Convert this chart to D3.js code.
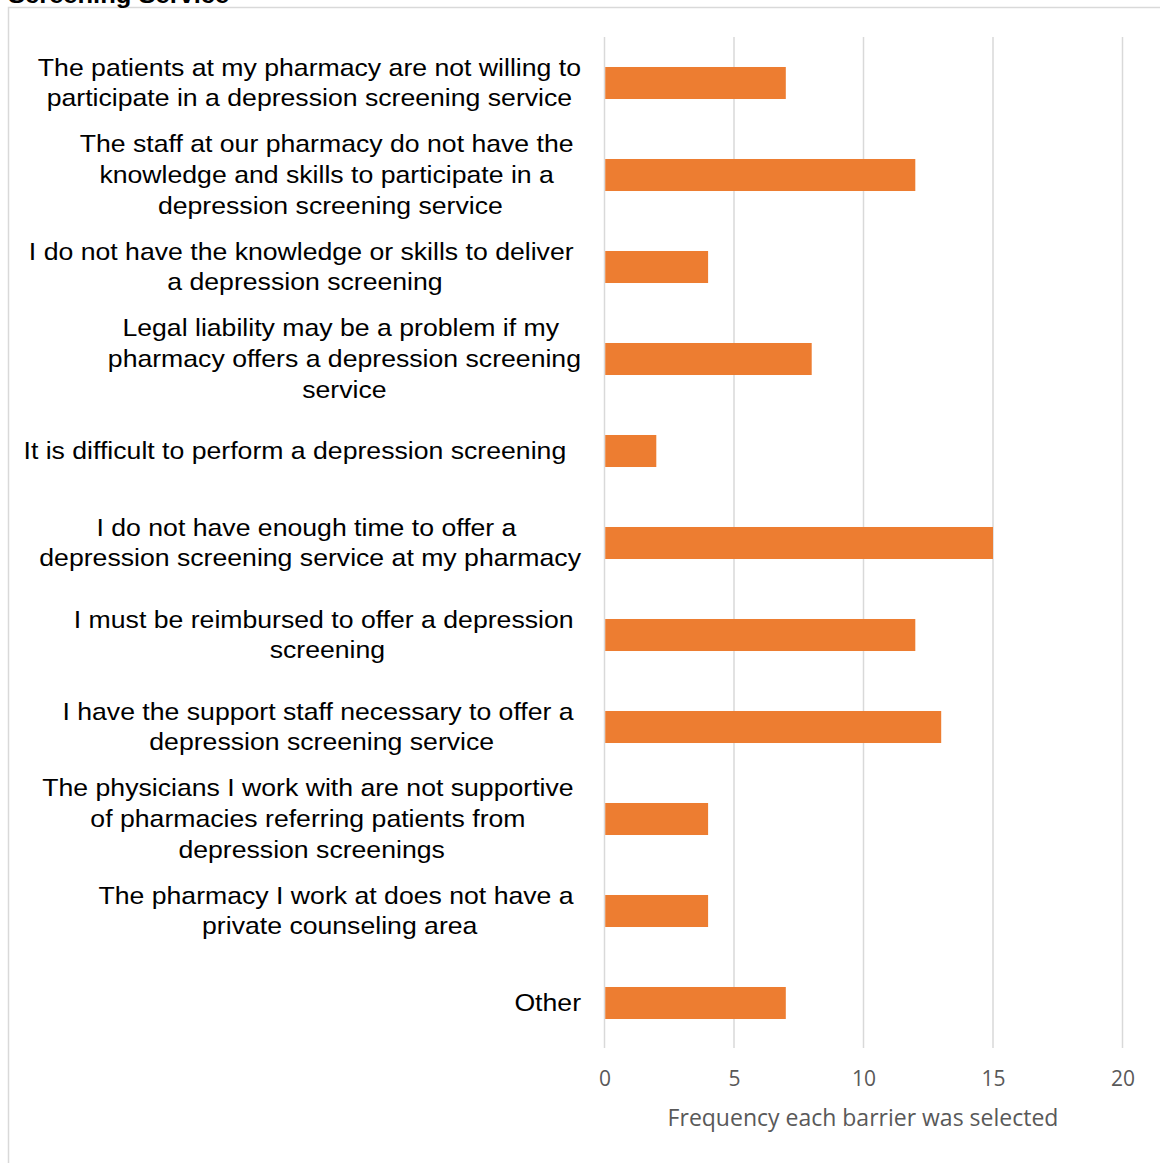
<!DOCTYPE html>
<html>
<head>
<meta charset="utf-8">
<script src="https://cdn.jsdelivr.net/npm/d3@7"></script>
<style>
  html, body { margin: 0; padding: 0; background: #fff; }
  svg { display: block; }
</style>
</head>
<body>
<svg id="chart" width="1160" height="1163"></svg>
<script>
// Barriers, each split into the lines it wraps onto (trailing spaces kept for centering)
const categories = [
  ["The patients at my pharmacy are not willing to", "participate in a depression screening service"],
  ["The staff at our pharmacy do not have the ", "knowledge and skills to participate in a ", "depression screening service"],
  ["I do not have the knowledge or skills to deliver ", "a depression screening"],
  ["Legal liability may be a problem if my ", "pharmacy offers a depression screening", "service"],
  ["It is difficult to perform a depression screening  "],
  ["I do not have enough time to offer a ", "depression screening service at my pharmacy"],
  ["I must be reimbursed to offer a depression ", "screening"],
  ["I have the support staff necessary to offer a ", "depression screening service"],
  ["The physicians I work with are not supportive ", "of pharmacies referring patients from ", "depression screenings"],
  ["The pharmacy I work at does not have a ", "private counseling area"],
  ["Other"]
];
const frequencies = [7, 12, 4, 8, 2, 15, 12, 13, 4, 4, 7];
const xTicks = [0, 5, 10, 15, 20];
const xTitle = "Frequency each barrier was selected";
const chartTitle = "Screening Service";

const svg = d3.select("#chart");
const plot = { left: 604.5, right: 1122.5, top: 37, bottom: 1049 };
const labelRight = 581;
const stretch = 1.11;   // labels are set slightly wide
const grid = "#d9d9d9";

// Outer chart frame (runs past the right and bottom edges)
svg.append("rect")
  .attr("x", 8.5).attr("y", 7.5)
  .attr("width", 1200).attr("height", 1200)
  .attr("fill", "none").attr("stroke", grid).attr("stroke-width", 1.5);

// Title, partly above the visible area
svg.append("text")
  .attr("transform", `translate(8,3) scale(${stretch},1)`)
  .attr("font-family", "Liberation Sans, Arial, sans-serif")
  .attr("font-weight", "bold").attr("font-size", 23)
  .attr("fill", "#000")
  .text(chartTitle);

const x = d3.scaleLinear().domain([0, 20]).range([plot.left, plot.right]);
const y = d3.scaleBand()
  .domain(d3.range(categories.length))
  .range([plot.top, plot.bottom])
  .paddingInner(0.652).paddingOuter(0.326);

// Vertical gridlines
svg.append("g").selectAll("line")
  .data(xTicks).join("line")
  .attr("x1", d => x(d)).attr("x2", d => x(d))
  .attr("y1", plot.top).attr("y2", plot.bottom - 1)
  .attr("stroke", grid).attr("stroke-width", 1.5);

// Bars
svg.append("g").selectAll("rect")
  .data(frequencies).join("rect")
  .attr("x", x(0) + 0.75)
  .attr("y", (d, i) => y(i))
  .attr("width", d => x(d) - x(0) - 0.75)
  .attr("height", y.bandwidth())
  .attr("fill", "#ED7D31");

// X axis tick labels
const xAxis = d3.axisBottom(x).tickValues(xTicks).tickSize(0).tickPadding(0);
const ax = svg.append("g").attr("transform", `translate(0, 1086)`).call(xAxis);
ax.select(".domain").remove();
ax.selectAll("text")
  .attr("dy", 0)
  .attr("font-family", "Open Sans, sans-serif")
  .attr("font-size", 21)
  .attr("fill", "#595959");

// Axis title
svg.append("text")
  .attr("x", (plot.left + plot.right) / 2 - 0.5)
  .attr("y", 1126)
  .attr("text-anchor", "middle")
  .attr("font-family", "Open Sans, sans-serif")
  .attr("font-size", 23)
  .attr("fill", "#595959")
  .text(xTitle);

// Category labels: each block right-aligned to the axis, lines centered within it
const lineH = 30.6;
const labels = svg.append("g")
  .attr("transform", `translate(${labelRight},0) scale(${stretch},1)`)
  .attr("font-family", "Liberation Sans, Arial, sans-serif")
  .attr("font-size", 24)
  .attr("fill", "#000");

categories.forEach((lines, i) => {
  const cy = y(i) + y.bandwidth() / 2;
  const t = labels.append("text").style("white-space", "pre").attr("text-anchor", "middle");
  const spans = lines.map((ln, k) =>
    t.append("tspan")
      .attr("y", cy + (k - (lines.length - 1) / 2) * lineH + 8)
      .text(ln));
  const w = d3.max(spans, s => s.node().getComputedTextLength());
  spans.forEach(s => s.attr("x", -w / 2));
});
</script>
</body>
</html>
